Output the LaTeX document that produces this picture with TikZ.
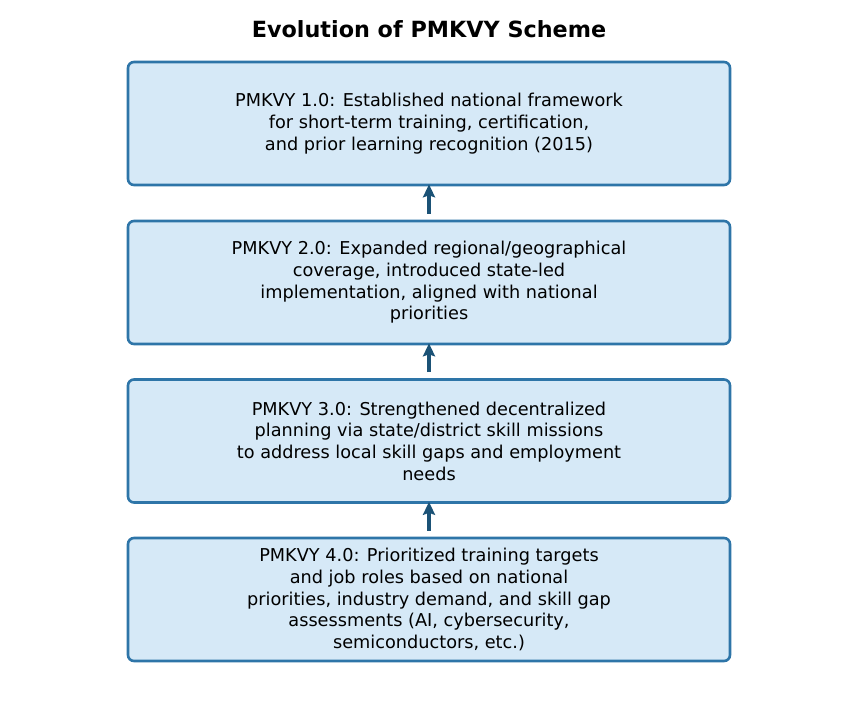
\documentclass[tikz,border=0pt]{standalone}
\usepackage{fontspec}
\setmainfont{DejaVu Sans}
\usetikzlibrary{arrows.meta}
\definecolor{boxblue}{HTML}{2E75A8}
\definecolor{boxfill}{HTML}{D6E9F7}
\definecolor{arrowblue}{HTML}{1B5276}

\begin{document}
\begin{tikzpicture}[x=1pt,y=-1pt,>={Stealth[length=13pt,width=12pt,inset=2pt]},
	stage/.style={draw=boxblue,fill=boxfill,line width=2.6pt,rounded corners=6pt,
		minimum width=602pt,minimum height=123pt,inner sep=0pt,align=center,
		font=\fontsize{17.7}{21.7}\selectfont}]

\useasboundingbox (0,0) rectangle (858,702);

\node [font=\fontsize{22.3}{26}\selectfont\bfseries] (title) at (429,29) {Evolution of PMKVY Scheme};

\node [stage] (s1) at (429,123.5) {PMKVY 1.0: Established national framework\\for short-term training, certification,\\and prior learning recognition (2015)};
\node [stage] (s2) at (429,282.5) {PMKVY 2.0: Expanded regional/geographical\\coverage, introduced state-led\\implementation, aligned with national\\priorities};
\node [stage] (s3) at (429,441) {PMKVY 3.0: Strengthened decentralized\\planning via state/district skill missions\\to address local skill gaps and employment\\needs};
\node [stage] (s4) at (429,599.5) {PMKVY 4.0: Prioritized training targets\\and job roles based on national\\priorities, industry demand, and skill gap\\assessments (AI, cybersecurity,\\semiconductors, etc.)};

\foreach \i in {1,2,3} {
	\pgfmathtruncatemacro{\j}{\i + 1};
	\draw [->,line width=3.2pt,arrowblue,shorten <=6pt,shorten >=-2pt] (s\j) -- (s\i);
}

\end{tikzpicture}
\end{document}
